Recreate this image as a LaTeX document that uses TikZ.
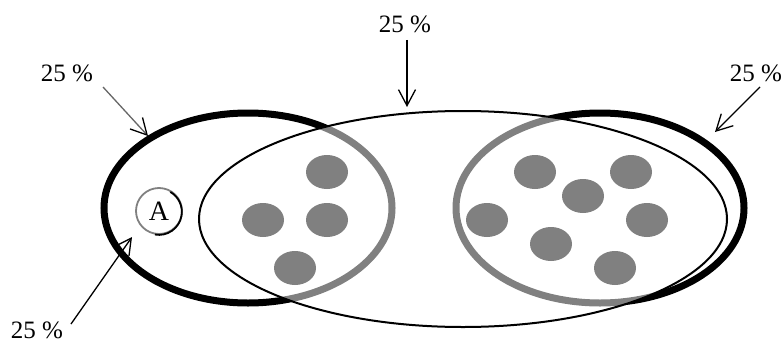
\documentclass[tikz,border=0pt]{standalone}
\usepackage{fontspec}
\setmainfont{Liberation Serif}
\usetikzlibrary{arrows.meta}
\begin{document}
\begin{tikzpicture}[x=1pt,y=-1pt,
  lbl/.style={font=\fontsize{25}{30}\selectfont, inner sep=0pt},
  arr/.style={line width=1.3pt, -{Straight Barb[length=16pt,width=17pt,line width=1.3pt]}},
  setring/.style={line width=7pt},
  dot/.style={fill=black},
]
\useasboundingbox (0,0) rectangle (783,345);

% the two outer sets
\draw[setring] (248,208) ellipse [x radius=144pt, y radius=95pt];
\draw[setring] (600,208) ellipse [x radius=144pt, y radius=95pt];

% elements
\foreach \p in {(327,172),(263,220),(327,220),(295,268),
                (535,172),(631,172),(583,196),(487,220),(647,220),(551,244),(615,268)}
  \fill[dot] \p ellipse [x radius=21pt, y radius=17pt];

% middle set, half-transparent so everything inside turns grey
\fill[white, fill opacity=0.5] (463,219) ellipse [x radius=264pt, y radius=108pt];
\draw[line width=2pt] (463,219) ellipse [x radius=264pt, y radius=108pt];

% element A
\node[circle, minimum size=46pt, inner sep=0pt, draw=black!50, line width=1.8pt,
      font=\fontsize{28}{30}\selectfont] (A) at (159,211) {A};
\draw[line width=1.8pt] (A.-100) arc[start angle=-100, end angle=60, radius=23pt];

% shares
\node[lbl] (lt) at (67,73) {25 \%};
\node[lbl] (tp) at (405,24) {25 \%};
\node[lbl] (rt) at (756,73) {25 \%};
\node[lbl] (lb) at (37,330) {25 \%};

\coordinate (ltS) at (103,87);  \coordinate (ltE) at (148,136);
\coordinate (tpS) at (407,40);  \coordinate (tpE) at (407,107);
\coordinate (rtS) at (760,87);  \coordinate (rtE) at (715,132);
\coordinate (lbS) at (71,324);  \coordinate (lbE) at (132,237);

\draw[arr, draw=black!60, -{Straight Barb[length=16pt,width=17pt,line width=1.3pt,color=black]}] (ltS) -- (ltE);
\draw[arr] (tpS) -- (tpE);
\draw[arr] (rtS) -- (rtE);
\draw[arr] (lbS) -- (lbE);
\end{tikzpicture}
\end{document}
